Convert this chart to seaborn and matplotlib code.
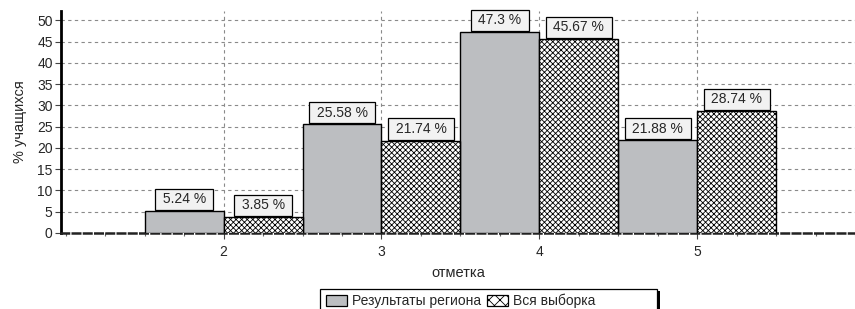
import matplotlib
matplotlib.use("Agg")
import matplotlib.pyplot as plt
from matplotlib.ticker import MultipleLocator
from matplotlib.patches import Patch, Rectangle
import seaborn as sns
import pandas as pd

marks = ["2", "3", "4", "5"]
region = [5.24, 25.58, 47.3, 21.88]
sample = [3.85, 21.74, 45.67, 28.74]
series_names = ["Результаты региона", "Вся выборка"]
region_labels = ["5.24 %", "25.58 %", "47.3 %", "21.88 %"]
sample_labels = ["3.85 %", "21.74 %", "45.67 %", "28.74 %"]

df = pd.DataFrame({
    "mark": marks * 2,
    "value": region + sample,
    "series": [series_names[0]] * 4 + [series_names[1]] * 4,
})

sns.set_theme(style="white")
plt.rcParams["font.family"] = ["Liberation Sans", "DejaVu Sans"]
plt.rcParams["hatch.linewidth"] = 0.6

W, H = 855, 309
fig = plt.figure(figsize=(W / 100, H / 100), dpi=100)
ax = fig.add_axes([61 / W, 1 - 233 / H, 1 - 61 / W, (233 - 11) / H])

gray = "#bcbec1"
sns.barplot(data=df, x="mark", y="value", hue="series", order=marks,
            hue_order=series_names, palette=[gray, "white"], width=1.0,
            dodge=True, edgecolor="black", linewidth=1.0, saturation=1,
            ax=ax, zorder=3)

for bar in ax.containers[1]:
    bar.set_hatch("xxxxxx")
    bar.set_facecolor("white")
    bar.set_edgecolor("black")

if ax.get_legend() is not None:
    ax.get_legend().remove()

ax.set_xlim(-1.03, 4.0)
ax.set_ylim(0, 52.2)
ax.yaxis.set_major_locator(MultipleLocator(5))
ax.xaxis.set_minor_locator(MultipleLocator(0.25))

ax.grid(True, which="major", axis="both", color="#8a8a8a",
        linestyle=(0, (3, 3)), linewidth=0.8, zorder=0)
ax.set_axisbelow(True)

for s in ["top", "right"]:
    ax.spines[s].set_visible(False)
ax.spines["left"].set_linewidth(2.0)
ax.spines["left"].set_color("black")
ax.spines["bottom"].set_linewidth(1.8)
ax.spines["bottom"].set_color("#222222")
ax.spines["bottom"].set_linestyle((0, (3, 1.5)))

ax.tick_params(axis="both", which="major", labelsize=10, length=4,
               width=0.8, color="#444444", bottom=True, left=True, pad=2)
ax.tick_params(axis="x", which="major", pad=5)
ax.tick_params(axis="x", which="minor", length=2.5, width=0.8,
               color="#666666", bottom=True)

ax.set_xlabel("отметка", fontsize=10.5, labelpad=5)
ax.set_ylabel("% учащихся", fontsize=10.5, labelpad=7)

def add_labels(container, labels):
    for bar, lab in zip(container, labels):
        x = bar.get_x() + bar.get_width() / 2
        y = bar.get_height()
        ax.annotate(" " + lab + " ", (x, y), xytext=(0, 3.2),
                    textcoords="offset points",
                    ha="center", va="bottom", fontsize=10, zorder=5,
                    bbox=dict(boxstyle="square,pad=0.26", fc="#f2f2f2",
                              ec="black", lw=0.9))

add_labels(ax.containers[0], region_labels)
add_labels(ax.containers[1], sample_labels)

handles = [Patch(facecolor=gray, edgecolor="black", linewidth=0.9),
           Patch(facecolor="white", edgecolor="black", hatch="xxx", linewidth=0.9)]
leg = fig.legend(handles, series_names, loc="upper left",
                 bbox_to_anchor=(321 / W, 1 - 289 / H), ncol=2,
                 fontsize=10, frameon=False,
                 handlelength=1.5, handleheight=0.9, handletextpad=0.4,
                 columnspacing=0.4, borderpad=0.35, borderaxespad=0)
fig.canvas.draw()
bb = leg.get_window_extent()
left, right, top = 320, 657, 289
bottom_px = H - bb.y0
height = bottom_px - top
fig.patches.append(Rectangle((right / W, 1 - (top + height + 3) / H), 3 / W,
                             (height + 1) / H, transform=fig.transFigure,
                             facecolor="black", edgecolor="none", zorder=1))
fig.patches.append(Rectangle((left / W, 1 - (top + height) / H),
                             (right - left) / W, height / H,
                             transform=fig.transFigure, facecolor="white",
                             edgecolor="black", linewidth=0.9, zorder=2))
leg.set_zorder(5)

fig.savefig("out.png", dpi=100)
